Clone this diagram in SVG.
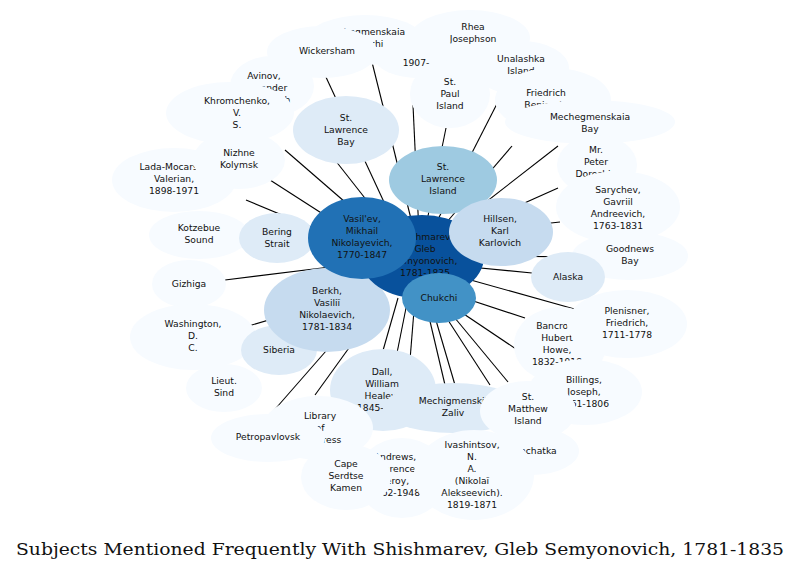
<svg xmlns="http://www.w3.org/2000/svg" width="803" height="571" viewBox="0 0 803 571">
<style>
text{font-family:"DejaVu Sans",sans-serif;font-size:9.2px;text-anchor:middle;fill:#111}
.l{stroke:#000;stroke-width:1.1}
.a{fill:#f7fbff}.b{fill:#deebf7}.c{fill:#c6dbef}.d{fill:#9ecae1}.e{fill:#4292c6}.f{fill:#2171b5}.g{fill:#08519c}
.t{font-family:"DejaVu Serif",serif;font-size:17px}
</style>
<rect width="803" height="571" fill="#fff"/>
<g id="connectors">
<line class="l" x1="420" y1="255" x2="372" y2="62"/>
<line class="l" x1="420" y1="255" x2="413" y2="105"/>
<line class="l" x1="390" y1="215" x2="325" y2="75"/>
<line class="l" x1="360" y1="215" x2="285" y2="150"/>
<line class="l" x1="390" y1="230" x2="335" y2="160"/>
<line class="l" x1="420" y1="255" x2="446" y2="128"/>
<line class="l" x1="430" y1="235" x2="503" y2="92"/>
<line class="l" x1="440" y1="230" x2="512" y2="146"/>
<line class="l" x1="450" y1="230" x2="558" y2="146"/>
<line class="l" x1="460" y1="232" x2="558" y2="188"/>
<line class="l" x1="470" y1="232" x2="560" y2="222"/>
<line class="l" x1="340" y1="225" x2="270" y2="180"/>
<line class="l" x1="330" y1="235" x2="246" y2="200"/>
<line class="l" x1="320" y1="248" x2="250" y2="241"/>
<line class="l" x1="420" y1="255" x2="575" y2="257"/>
<line class="l" x1="460" y1="266" x2="532" y2="273"/>
<line class="l" x1="330" y1="267" x2="225" y2="280"/>
<line class="l" x1="460" y1="277" x2="578" y2="310"/>
<line class="l" x1="440" y1="290" x2="525" y2="318"/>
<line class="l" x1="440" y1="298" x2="580" y2="392"/>
<line class="l" x1="370" y1="290" x2="245" y2="327"/>
<line class="l" x1="365" y1="290" x2="285" y2="335"/>
<line class="l" x1="375" y1="295" x2="270" y2="415"/>
<line class="l" x1="385" y1="298" x2="315" y2="395"/>
<line class="l" x1="398" y1="298" x2="378" y2="368"/>
<line class="l" x1="408" y1="298" x2="395" y2="363"/>
<line class="l" x1="415" y1="298" x2="410" y2="360"/>
<line class="l" x1="425" y1="300" x2="445" y2="385"/>
<line class="l" x1="430" y1="300" x2="455" y2="385"/>
<line class="l" x1="435" y1="300" x2="490" y2="385"/>
<line class="l" x1="440" y1="300" x2="508" y2="382"/>
</g>
<g id="n_mech_chukchi"><ellipse class="a" cx="365" cy="40" rx="58" ry="25"/><text x="365" y="35">Mechegmenskaia<tspan x="365" dy="12">Chukchi</tspan></text></g>
<g id="n_rhea"><ellipse class="a" cx="470" cy="38" rx="60" ry="28"/><text x="473" y="30">Rhea<tspan x="473" dy="12">Josephson</tspan></text></g>
<g id="n_1907"><ellipse class="a" cx="420" cy="58" rx="45" ry="20"/><text x="416" y="66">1907-</text></g>
<g id="n_wickersham"><ellipse class="a" cx="322" cy="52" rx="55" ry="26"/><text x="327" y="54">Wickersham</text></g>
<g id="n_unalashka"><ellipse class="a" cx="521" cy="68" rx="48" ry="27"/><text x="521" y="62">Unalashka<tspan x="521" dy="12">Island</tspan></text></g>
<g id="n_avinov"><ellipse class="a" cx="272" cy="86" rx="42" ry="30"/><text x="264" y="79">Avinov,<tspan x="264" dy="12">Alexander</tspan><tspan x="264" dy="12">Nikolaevich</tspan></text></g>
<g id="n_khromchenko"><ellipse class="a" cx="230" cy="113" rx="64" ry="31"/><text x="237" y="104">Khromchenko,<tspan x="237" dy="12">V.</tspan><tspan x="237" dy="12">S.</tspan></text></g>
<g id="n_friedrich"><ellipse class="a" cx="553" cy="100" rx="58" ry="32"/><text x="546" y="96">Friedrich<tspan x="546" dy="12">Benjamin</tspan></text></g>
<g id="n_stpaul"><ellipse class="a" cx="450" cy="94" rx="40" ry="34"/><text x="450" y="85">St.<tspan x="450" dy="12">Paul</tspan><tspan x="450" dy="12">Island</tspan></text></g>
<g id="n_mech_bay"><ellipse class="a" cx="590" cy="122" rx="85" ry="22"/><text x="590" y="120">Mechegmenskaia<tspan x="590" dy="12">Bay</tspan></text></g>
<g id="n_peter"><ellipse class="a" cx="597" cy="165" rx="40" ry="30"/><text x="596" y="153">Mr.<tspan x="596" dy="12">Peter</tspan><tspan x="596" dy="12">Doroshin</tspan></text></g>
<g id="n_lada"><ellipse class="a" cx="174" cy="180" rx="62" ry="32"/><text x="174" y="170">Lada-Mocarski,<tspan x="174" dy="12">Valerian,</tspan><tspan x="174" dy="12">1898-1971</tspan></text></g>
<g id="n_nizhne"><ellipse class="a" cx="239" cy="160" rx="46" ry="29"/><text x="239" y="156">Nizhne<tspan x="239" dy="12">Kolymsk</tspan></text></g>
<g id="n_goodnews"><ellipse class="a" cx="630" cy="256" rx="58" ry="24"/><text x="630" y="252">Goodnews<tspan x="630" dy="12">Bay</tspan></text></g>
<g id="n_sarychev"><ellipse class="a" cx="618" cy="207" rx="62" ry="36"/><text x="618" y="193">Sarychev,<tspan x="618" dy="12">Gavriil</tspan><tspan x="618" dy="12">Andreevich,</tspan><tspan x="618" dy="12">1763-1831</tspan></text></g>
<g id="n_kotzebue"><ellipse class="a" cx="199" cy="235" rx="50" ry="24"/><text x="199" y="231">Kotzebue<tspan x="199" dy="12">Sound</tspan></text></g>
<g id="n_gizhiga"><ellipse class="a" cx="189" cy="284" rx="37" ry="24"/><text x="189" y="287">Gizhiga</text></g>
<g id="n_barr"><ellipse class="a" cx="560" cy="345" rx="46" ry="38"/><text x="557" y="329">Bancroft,<tspan x="557" dy="12">Hubert</tspan><tspan x="557" dy="12">Howe,</tspan><tspan x="557" dy="12">1832-1918</tspan></text></g>
<g id="n_plenisner"><ellipse class="a" cx="627" cy="324" rx="60" ry="34"/><text x="627" y="314">Plenisner,<tspan x="627" dy="12">Friedrich,</tspan><tspan x="627" dy="12">1711-1778</tspan></text></g>
<g id="n_washington"><ellipse class="a" cx="193" cy="337" rx="63" ry="33"/><text x="193" y="327">Washington,<tspan x="193" dy="12">D.</tspan><tspan x="193" dy="12">C.</tspan></text></g>
<g id="n_lieut"><ellipse class="a" cx="224" cy="388" rx="38" ry="24"/><text x="224" y="384">Lieut.<tspan x="224" dy="12">Sind</tspan></text></g>
<g id="n_billings"><ellipse class="a" cx="585" cy="392" rx="57" ry="33"/><text x="584" y="383">Billings,<tspan x="584" dy="12">Joseph,</tspan><tspan x="584" dy="12">1761-1806</tspan></text></g>
<g id="n_dall"><ellipse class="b" cx="383" cy="390" rx="53" ry="41"/><text x="382" y="375">Dall,<tspan x="382" dy="12">William</tspan><tspan x="382" dy="12">Healey,</tspan><tspan x="382" dy="12">1845-1927</tspan></text></g>
<g id="n_library"><ellipse class="a" cx="318" cy="428" rx="55" ry="32"/><text x="320" y="419">Library<tspan x="320" dy="12">of</tspan><tspan x="320" dy="12">Congress</tspan></text></g>
<g id="n_petro"><ellipse class="a" cx="268" cy="438" rx="57" ry="24"/><text x="268" y="440">Petropavlovsk</text></g>
<g id="n_mechzaliv"><ellipse class="b" cx="453" cy="408" rx="70" ry="25"/><text x="453" y="404">Mechigmenskii<tspan x="453" dy="12">Zaliv</tspan></text></g>
<g id="n_kamchatka"><ellipse class="a" cx="531" cy="451" rx="48" ry="24"/><text x="531" y="454">Kamchatka</text></g>
<g id="n_stmatthew"><ellipse class="a" cx="528" cy="411" rx="48" ry="30"/><text x="528" y="400">St.<tspan x="528" dy="12">Matthew</tspan><tspan x="528" dy="12">Island</tspan></text></g>
<g id="n_andr"><ellipse class="a" cx="402" cy="478" rx="45" ry="40"/><text x="395" y="460">Andrews,<tspan x="395" dy="12">Clarence</tspan><tspan x="395" dy="12">Leroy,</tspan><tspan x="395" dy="12">1862-1948</tspan></text></g>
<g id="n_cape"><ellipse class="a" cx="346" cy="477" rx="45" ry="33"/><text x="346" y="467">Cape<tspan x="346" dy="12">Serdtse</tspan><tspan x="346" dy="12">Kamen</tspan></text></g>
<g id="n_ivash"><ellipse class="a" cx="474" cy="475" rx="60" ry="45"/><text x="472" y="448">Ivashintsov,<tspan x="472" dy="12">N.</tspan><tspan x="472" dy="12">A.</tspan><tspan x="472" dy="12">(Nikolaĭ</tspan><tspan x="472" dy="12">Alekseevich).</tspan><tspan x="472" dy="12">1819-1871</tspan></text></g>
<g id="n_stlbay"><ellipse class="b" cx="346" cy="130" rx="53" ry="34"/><text x="346" y="121">St.<tspan x="346" dy="12">Lawrence</tspan><tspan x="346" dy="12">Bay</tspan></text></g>
<g id="n_bering"><ellipse class="b" cx="277" cy="238" rx="38" ry="25"/><text x="277" y="235">Bering<tspan x="277" dy="12">Strait</tspan></text></g>
<g id="n_alaska"><ellipse class="b" cx="568" cy="277" rx="37" ry="25"/><text x="568" y="280">Alaska</text></g>
<g id="n_siberia"><ellipse class="b" cx="279" cy="350" rx="38" ry="25"/><text x="279" y="353">Siberia</text></g>
<g id="n_berkh"><ellipse class="c" cx="327" cy="310" rx="63" ry="42"/><text x="327" y="294">Berkh,<tspan x="327" dy="12">Vasiliĭ</tspan><tspan x="327" dy="12">Nikolaevich,</tspan><tspan x="327" dy="12">1781-1834</tspan></text></g>
<g id="n_shishmarev"><ellipse class="g" cx="422" cy="257" rx="62" ry="42"/><text x="425" y="240">Shishmarev,<tspan x="425" dy="12">Gleb</tspan><tspan x="425" dy="12">Semyonovich,</tspan><tspan x="425" dy="12">1781-1835</tspan></text></g>
<g id="n_stlisland"><ellipse class="d" cx="443" cy="180" rx="54" ry="34"/><text x="443" y="170">St.<tspan x="443" dy="12">Lawrence</tspan><tspan x="443" dy="12">Island</tspan></text></g>
<g id="n_hillsen"><ellipse class="c" cx="501" cy="232" rx="52" ry="34"/><text x="500" y="222">Hillsen,<tspan x="500" dy="12">Karl</tspan><tspan x="500" dy="12">Karlovich</tspan></text></g>
<g id="n_vasilev"><ellipse class="f" cx="362" cy="238" rx="54" ry="41"/><text x="362" y="222">Vasil'ev,<tspan x="362" dy="12">Mikhail</tspan><tspan x="362" dy="12">Nikolayevich,</tspan><tspan x="362" dy="12">1770-1847</tspan></text></g>
<g id="n_chukchi"><ellipse class="e" cx="439" cy="298" rx="37" ry="25"/><text x="439" y="301">Chukchi</text></g>
<text class="t" x="400" y="555" textLength="768" lengthAdjust="spacingAndGlyphs">Subjects Mentioned Frequently With Shishmarev, Gleb Semyonovich, 1781-1835</text>
</svg>
